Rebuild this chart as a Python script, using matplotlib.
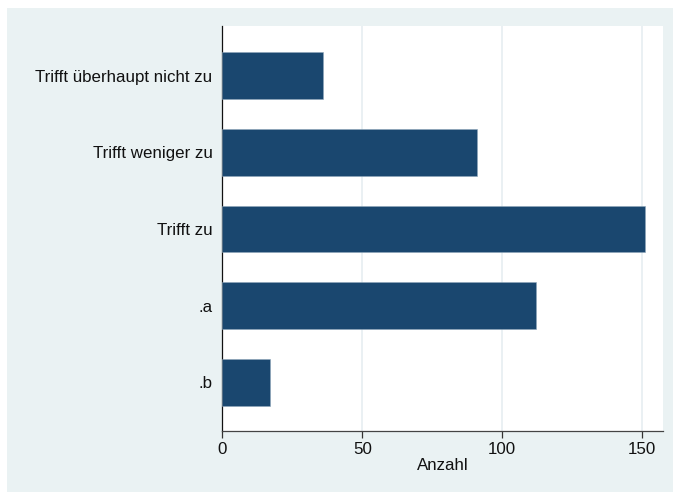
import matplotlib
matplotlib.use('Agg')
import matplotlib.pyplot as plt
from matplotlib.patches import Rectangle

# Stata s2color look
BAR = '#1A476F'
BG = '#EAF2F3'
GRID = '#E6EEF1'

categories = ['Trifft überhaupt nicht zu', 'Trifft weniger zu', 'Trifft zu', '.a', '.b']
counts = [36, 91, 151, 112, 17]
xticks = [0, 50, 100, 150]

plt.rcParams['font.family'] = ['Liberation Sans', 'DejaVu Sans']
FS = 12.2

fig = plt.figure(figsize=(6.73, 4.92), dpi=100)
fig.patch.set_facecolor('white')
fig.patches.append(Rectangle((7 / 673, 0), 1, 1 - 8 / 492, transform=fig.transFigure,
                             facecolor=BG, edgecolor='none', zorder=-10))

ax = fig.add_axes([222.3 / 673, 1 - 431 / 492, (662.7 - 222.3) / 673, (431 - 26) / 492])
ax.set_facecolor('white')

pos = list(range(len(categories)))
ax.barh(pos, counts, height=0.605, color=BAR, edgecolor='#8FA6BA', linewidth=0.4, zorder=3)

ax.set_ylim(4.635, -0.648)
ax.set_xlim(0, 157.3)
ax.set_yticks(pos)
ax.set_yticklabels(categories, fontsize=FS, color='#111111')
ax.set_xticks(xticks)
ax.set_xticklabels([str(t) for t in xticks], fontsize=FS, color='#111111')
ax.tick_params(axis='y', length=0, pad=7)
ax.tick_params(axis='x', length=5, width=0.9, color='#333333', pad=3)
ax.grid(axis='x', color=GRID, linewidth=1.2, zorder=0)
ax.set_axisbelow(True)

for s in ['top', 'right']:
    ax.spines[s].set_visible(False)
ax.spines['left'].set_color('#111111')
ax.spines['bottom'].set_color('#444444')
ax.spines['left'].set_linewidth(0.9)
ax.spines['bottom'].set_linewidth(0.9)

ax.set_xlabel('Anzahl', fontsize=FS, color='#111111', labelpad=1)

fig.savefig('out.png', dpi=100, facecolor='white')
